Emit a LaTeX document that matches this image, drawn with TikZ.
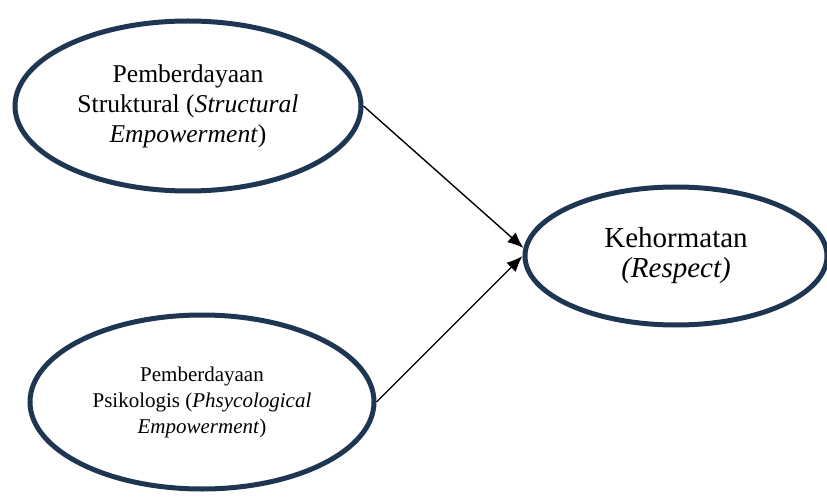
\documentclass[tikz,border=0pt]{standalone}
\usepackage{fontspec}
\setmainfont{Liberation Serif}
\usetikzlibrary{arrows.meta, positioning, shapes.geometric}
\definecolor{colorBorder}{HTML}{1F3653}
\tikzset{latent/.style={ellipse, draw=colorBorder, line width=5pt, inner sep=0pt, align=center}}
\tikzset{link/.style={->, black, line width=1.4pt}}

\begin{document}
\begin{tikzpicture}[x=1pt, y=1pt, >={Latex[length=16pt, width=13pt]}]
\useasboundingbox (0,0) rectangle (827,496);
\node[latent, minimum width=346pt, minimum height=170pt, font=\fontsize{25.6}{30}\selectfont] (sp) at (188,390) {Pemberdayaan\\Struktural (\textit{Structural}\\\textit{Empowerment})};
\node[latent, minimum width=344pt, minimum height=174pt, font=\fontsize{21}{26}\selectfont] (pp) at (202,94) {Pemberdayaan\\Psikologis (\textit{Phsycological}\\\textit{Empowerment})};
\node[latent, minimum width=302pt, minimum height=138pt, font=\fontsize{29}{30}\selectfont] (ke) at (676,240) {Kehormatan\\\textit{(Respect)}};
\draw [link] (sp.east) -- (ke.177);
\draw [link] (pp.east) -- (ke.west);
\end{tikzpicture}
\end{document}
